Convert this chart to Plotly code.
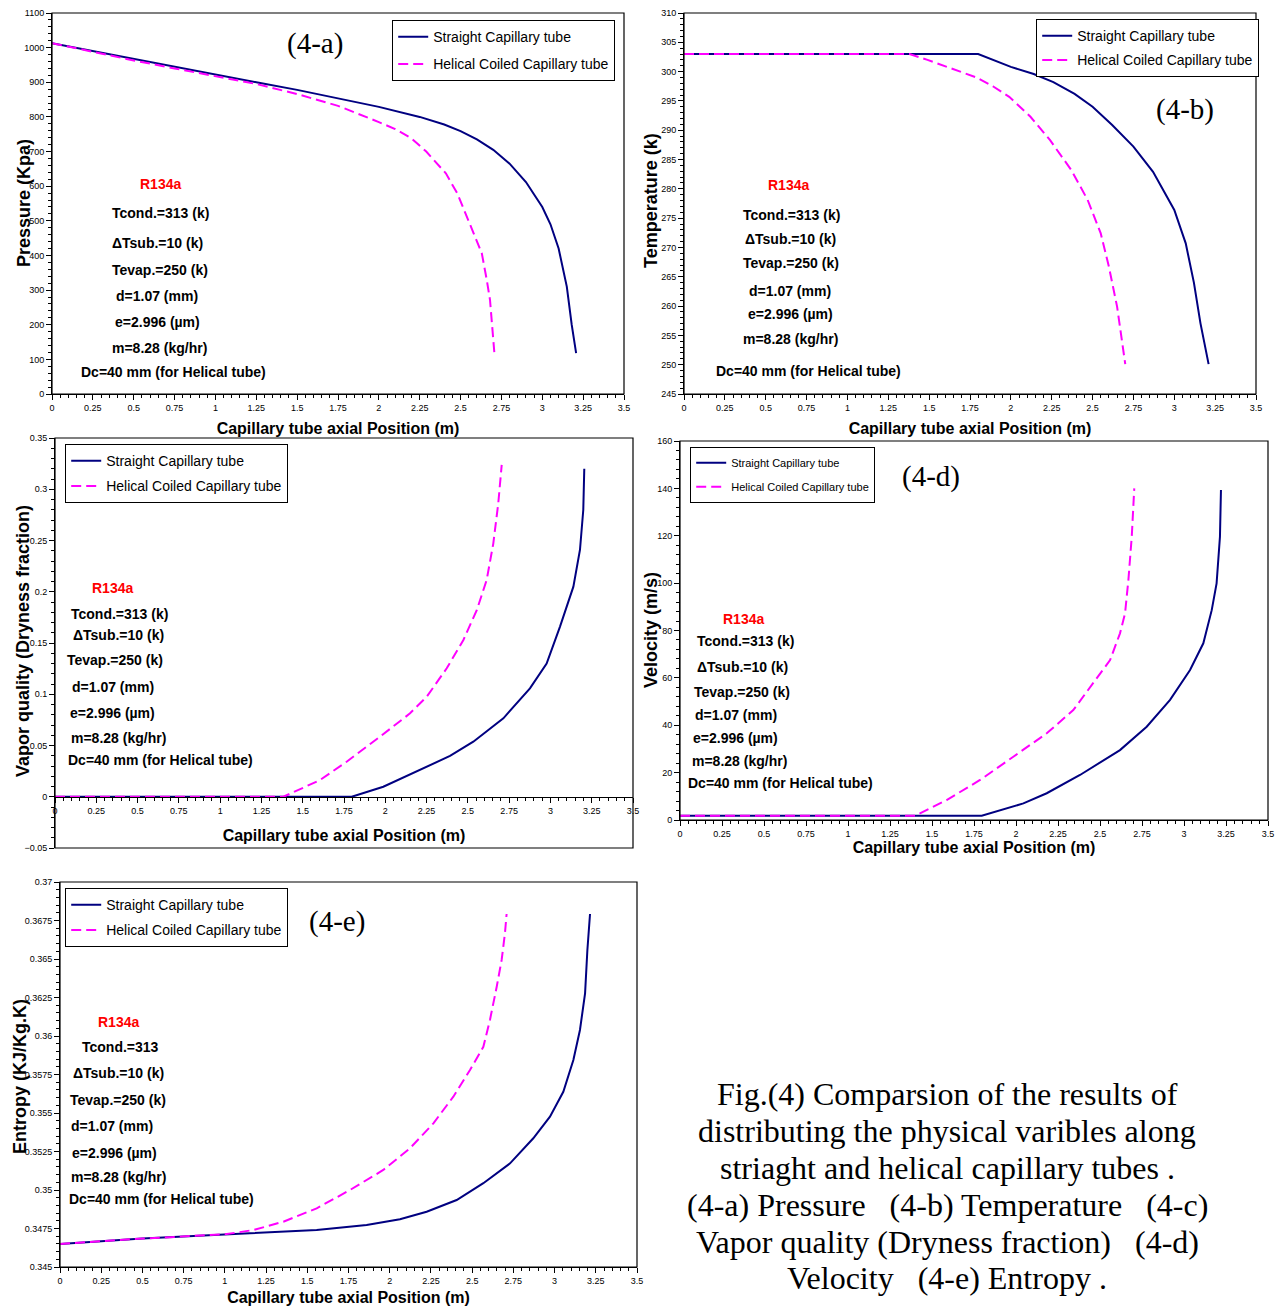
import plotly.graph_objects as go

W, H = 1284, 1306

# ---------------- DATA ----------------
# (4-a) Pressure (kPa)
pa_x_str = [0, 0.25, 0.5, 0.75, 1.0, 1.25, 1.5, 1.75, 2.0, 2.25, 2.4, 2.5, 2.6, 2.7, 2.8, 2.9, 3.0, 3.05, 3.1, 3.15, 3.18, 3.207]
pa_y_str = [1013, 990, 968, 945, 923, 900, 878, 853, 829, 800, 778, 759, 735, 705, 665, 612, 540, 490, 420, 310, 200, 118]
pa_x_hel = [0, 0.25, 0.5, 0.75, 1.0, 1.25, 1.5, 1.75, 2.0, 2.1, 2.2, 2.29, 2.41, 2.48, 2.58, 2.63, 2.66, 2.68, 2.707]
pa_y_hel = [1013, 987, 963, 940, 918, 895, 866, 832, 785, 765, 738, 700, 637, 579, 464, 406, 330, 272, 118]

# (4-b) Temperature (K)
pb_x_str = [0, 1.8, 2.0, 2.14, 2.26, 2.39, 2.5, 2.62, 2.75, 2.87, 3.0, 3.07, 3.12, 3.16, 3.21]
pb_y_str = [303, 303, 300.8, 299.6, 298.2, 296.2, 294, 290.9, 287.2, 282.9, 276.4, 270.7, 264, 257.1, 250.1]
pb_x_hel = [0, 1.38, 1.49, 1.64, 1.79, 1.89, 1.99, 2.12, 2.24, 2.37, 2.47, 2.55, 2.6, 2.65, 2.70]
pb_y_hel = [303, 303, 302, 300.5, 299, 297.5, 295.7, 292.3, 288.3, 283.2, 278.1, 272.4, 266.7, 259.9, 250.1]

# (4-c) Vapor quality
pc_x_str = [0, 1.797, 1.988, 2.21, 2.392, 2.533, 2.715, 2.876, 2.977, 3.058, 3.139, 3.179, 3.199, 3.205]
pc_y_str = [0, 0, 0.0098, 0.0261, 0.0398, 0.0537, 0.0765, 0.1058, 0.130, 0.166, 0.205, 0.241, 0.280, 0.320]
pc_x_hel = [0, 1.383, 1.605, 1.766, 1.968, 2.15, 2.251, 2.372, 2.473, 2.554, 2.614, 2.654, 2.684, 2.705]
pc_y_hel = [0, 0, 0.0163, 0.0342, 0.0586, 0.0814, 0.0976, 0.1253, 0.153, 0.182, 0.2115, 0.247, 0.286, 0.3237]

# (4-d) Velocity (m/s)
pd_x_str = [0, 1.796, 2.044, 2.183, 2.381, 2.619, 2.778, 2.917, 3.036, 3.115, 3.165, 3.194, 3.214, 3.22]
pd_y_str = [1.8, 1.8, 7.0, 11.3, 19.0, 29.5, 39.4, 50.7, 63.3, 74.6, 88.6, 99.9, 119.6, 139.3]
pd_x_hel = [0, 1.399, 1.587, 1.786, 1.984, 2.183, 2.341, 2.46, 2.56, 2.619, 2.649, 2.669, 2.689, 2.704]
pd_y_hel = [1.8, 1.8, 8.4, 16.9, 26.7, 36.6, 46.4, 57.7, 67.5, 78.8, 87.2, 101.3, 119.6, 140.0]

# (4-e) Entropy (kJ/kg.K)
pe_x_str = [0, 0.5, 1.152, 1.557, 1.86, 2.062, 2.224, 2.406, 2.568, 2.73, 2.871, 2.972, 3.053, 3.114,
            3.154, 3.185, 3.199, 3.215]
pe_y_str = [0.3465, 0.34685, 0.34719, 0.3474, 0.34773, 0.3481, 0.34859, 0.34935, 0.35044, 0.35173,
            0.35336, 0.35476, 0.35638, 0.35844, 0.36039, 0.36277, 0.36558, 0.36792]
pe_x_hel = [0, 0.5, 1.0, 1.173, 1.355, 1.557, 1.759, 1.961, 2.123, 2.265, 2.386, 2.487, 2.568, 2.608,
            2.649, 2.679, 2.699, 2.709]
pe_y_hel = [0.3465, 0.34685, 0.34712, 0.3474, 0.34794, 0.34881, 0.35, 0.3513, 0.35271, 0.35433,
            0.35606, 0.35779, 0.3593, 0.36104, 0.3632, 0.36494, 0.36667, 0.36792]

series_names = ["Straight Capillary tube", "Helical Coiled Capillary tube"]

params_a = ["R134a", "Tcond.=313 (k)", "\u0394Tsub.=10 (k)", "Tevap.=250 (k)", "d=1.07 (mm)",
            "e=2.996 (\u00b5m)", "m=8.28 (kg/hr)", "Dc=40 mm (for Helical tube)"]
params_e = ["R134a", "Tcond.=313", "\u0394Tsub.=10 (k)", "Tevap.=250 (k)", "d=1.07 (mm)",
            "e=2.996 (\u00b5m)", "m=8.28 (kg/hr)", "Dc=40 mm (for Helical tube)"]

caption_lines = [
    "Fig.(4) Comparsion of the results of",
    "distributing the physical varibles along",
    "striaght and helical capillary tubes .",
    "(4-a) Pressure \u00a0\u00a0(4-b) Temperature \u00a0\u00a0(4-c)",
    "Vapor quality (Dryness fraction) \u00a0\u00a0(4-d)",
    "Velocity \u00a0\u00a0(4-e) Entropy .",
]

# ---------------- LAYOUT SPEC ----------------
SANS = "Liberation Sans, Arial, sans-serif"
SERIF = "Liberation Serif, Times New Roman, serif"
NAVY = "#000080"
MAG = "#FF00FF"

panels = [
    dict(n=1, xpx=(52, 624), ypx=(13, 394), yrange=[0, 1100], ydt=100, ymin=20,
         ytitle=("Pressure (Kpa)", 24, 203), data=(pa_x_str, pa_y_str, pa_x_hel, pa_y_hel), xstand=11,
         leg=(392, 20, 14, 6), label=("(4-a)", 315, 44), params=params_a,
         ppos=[(160, 184), (160, 213), (157, 243), (160, 270), (157, 296), (157, 322), (159, 348), (174, 372)]),
    dict(n=2, xpx=(684, 1256), ypx=(13, 394), yrange=[245, 310], ydt=5, ymin=1,
         ytitle=("Temperature (k)", 651, 201), data=(pb_x_str, pb_y_str, pb_x_hel, pb_y_hel), xstand=11,
         leg=(1036, 19, 14, 3), label=("(4-b)", 1185, 110), params=params_a,
         ppos=[(788, 185), (791, 215), (790, 239), (791, 263), (790, 291), (790, 314), (790, 339), (808, 371)]),
    dict(n=3, xpx=(55, 633), ypx=(438, 848), yrange=[-0.05, 0.35], ydt=0.05, ymin=0.01,
         ytitle=("Vapor quality (Dryness fraction)", 23, 641), data=(pc_x_str, pc_y_str, pc_x_hel, pc_y_hel),
         xstand=15, leg=(65, 444, 14, 4), label=None, params=params_a,
         ppos=[(112, 588), (119, 614), (118, 635), (115, 660), (113, 687), (112, 713), (118, 738), (160, 760)]),
    dict(n=4, xpx=(680, 1268), ypx=(441, 820), yrange=[0, 160], ydt=20, ymin=4,
         ytitle=("Velocity (m/s)", 651, 630), data=(pd_x_str, pd_y_str, pd_x_hel, pd_y_hel), xstand=3,
         leg=(690, 447, 11, 5), label=("(4-d)", 931, 476), params=params_a,
         ppos=[(743, 619), (745, 641), (742, 667), (742, 692), (736, 715), (736, 738), (739, 761), (780, 783)]),
    dict(n=5, xpx=(60, 637), ypx=(882, 1267), yrange=[0.345, 0.37], ydt=0.0025, ymin=0.0005,
         ytitle=("Entropy (KJ/Kg.K)", 20, 1077), data=(pe_x_str, pe_y_str, pe_x_hel, pe_y_hel), xstand=8,
         leg=(65, 888, 14, 4), label=("(4-e)", 337, 921), params=params_e,
         ppos=[(118, 1022), (120, 1047), (118, 1073), (118, 1100), (112, 1126), (114, 1153), (118, 1177), (162, 1199)]),
]

fig = go.Figure()
layout = dict(width=W, height=H, margin=dict(l=0, r=0, t=0, b=0, autoexpand=False),
              paper_bgcolor="white", plot_bgcolor="white", showlegend=True)
annotations = []
shapes = []

for p in panels:
    n = p["n"]
    sx = "" if n == 1 else str(n)
    xname, yname = "x" + sx, "y" + sx
    legname = "legend" + sx
    xs, ys, xh, yh = p["data"]
    fig.add_trace(go.Scatter(x=xs, y=ys, mode="lines", name=series_names[0],
                             line=dict(color=NAVY, width=2), xaxis=xname, yaxis=yname,
                             legend=legname, legendgroup="s%d" % n))
    fig.add_trace(go.Scatter(x=xh, y=yh, mode="lines", name=series_names[1],
                             line=dict(color=MAG, width=2, dash="10px,5px"), xaxis=xname, yaxis=yname,
                             legend=legname, legendgroup="h%d" % n))
    xd = [p["xpx"][0] / W, p["xpx"][1] / W]
    yd = [1 - p["ypx"][1] / H, 1 - p["ypx"][0] / H]
    xa = dict(domain=xd, range=[0, 3.5], dtick=0.25, tick0=0, showgrid=False, zeroline=False,
              showline=True, linecolor="black", linewidth=1, ticks="outside", ticklen=5,
              tickcolor="black", tickfont=dict(family=SANS, size=9, color="black"),
              minor=dict(ticks="outside", ticklen=3, dtick=0.05, tickcolor="black", showgrid=False),
              title=dict(text="<b>Capillary tube axial Position (m)</b>",
                         font=dict(family=SANS, size=16, color="black"), standoff=p["xstand"]),
              anchor=yname, fixedrange=True, automargin=False)
    if n == 3:
        y0frac = (0 - p["yrange"][0]) / (p["yrange"][1] - p["yrange"][0])
        xa["anchor"] = "free"
        xa["position"] = yd[0] + y0frac * (yd[1] - yd[0])
    ya = dict(domain=yd, range=p["yrange"], dtick=p["ydt"], tick0=0, showgrid=False, zeroline=False,
              showline=True, linecolor="black", linewidth=1, ticks="outside", ticklen=5,
              tickcolor="black", tickfont=dict(family=SANS, size=9, color="black"),
              minor=dict(ticks="outside", ticklen=3, dtick=p["ymin"], tickcolor="black", showgrid=False),
              anchor=xname, fixedrange=True, automargin=False)
    layout["xaxis" + sx] = xa
    layout["yaxis" + sx] = ya
    # y-axis title (rotated text overlapping the tick-label column like the original)
    yt, ytx, yty = p["ytitle"]
    annotations.append(dict(text="<b>" + yt + "</b>", x=ytx / W, y=1 - yty / H, xref="paper", yref="paper",
                            xanchor="center", yanchor="middle", showarrow=False, textangle=-90,
                            font=dict(family=SANS, size=18, color="black")))
    # frame around plot area
    shapes.append(dict(type="rect", xref=xname + " domain", yref=yname + " domain",
                       x0=0, x1=1, y0=0, y1=1, line=dict(color="black", width=1.2),
                       fillcolor="rgba(0,0,0,0)", layer="above"))
    # legend
    lx, ly, lfs, gap = p["leg"]
    layout[legname] = dict(x=lx / W, y=1 - ly / H, xanchor="left", yanchor="top",
                           bgcolor="white", bordercolor="black", borderwidth=1.2,
                           font=dict(family=SANS, size=lfs, color="black"),
                           itemwidth=30, tracegroupgap=gap, traceorder="grouped")
    # panel label
    if p["label"]:
        t, tx, ty = p["label"]
        annotations.append(dict(text=t, x=tx / W, y=1 - ty / H, xref="paper", yref="paper",
                                xanchor="center", yanchor="middle", showarrow=False,
                                font=dict(family=SERIF, size=29, color="black")))
    # parameter text
    for i, (t, (tx, ty)) in enumerate(zip(p["params"], p["ppos"])):
        annotations.append(dict(text="<b>" + t + "</b>", x=tx / W, y=1 - ty / H, xref="paper", yref="paper",
                                xanchor="center", yanchor="middle", showarrow=False,
                                font=dict(family=SANS, size=14, color="red" if i == 0 else "black")))

cap_y = [1094, 1131, 1168, 1205, 1242, 1278]
for t, cy in zip(caption_lines, cap_y):
    annotations.append(dict(text=t, x=947 / W, y=1 - cy / H, xref="paper", yref="paper",
                            xanchor="center", yanchor="middle", showarrow=False,
                            font=dict(family=SERIF, size=32, color="black")))

layout["annotations"] = annotations
layout["shapes"] = shapes
fig.update_layout(**layout)
fig.write_html("out.html", config={"displayModeBar": False},
               post_script="document.body.style.margin='0px';document.body.style.overflow='hidden';")
